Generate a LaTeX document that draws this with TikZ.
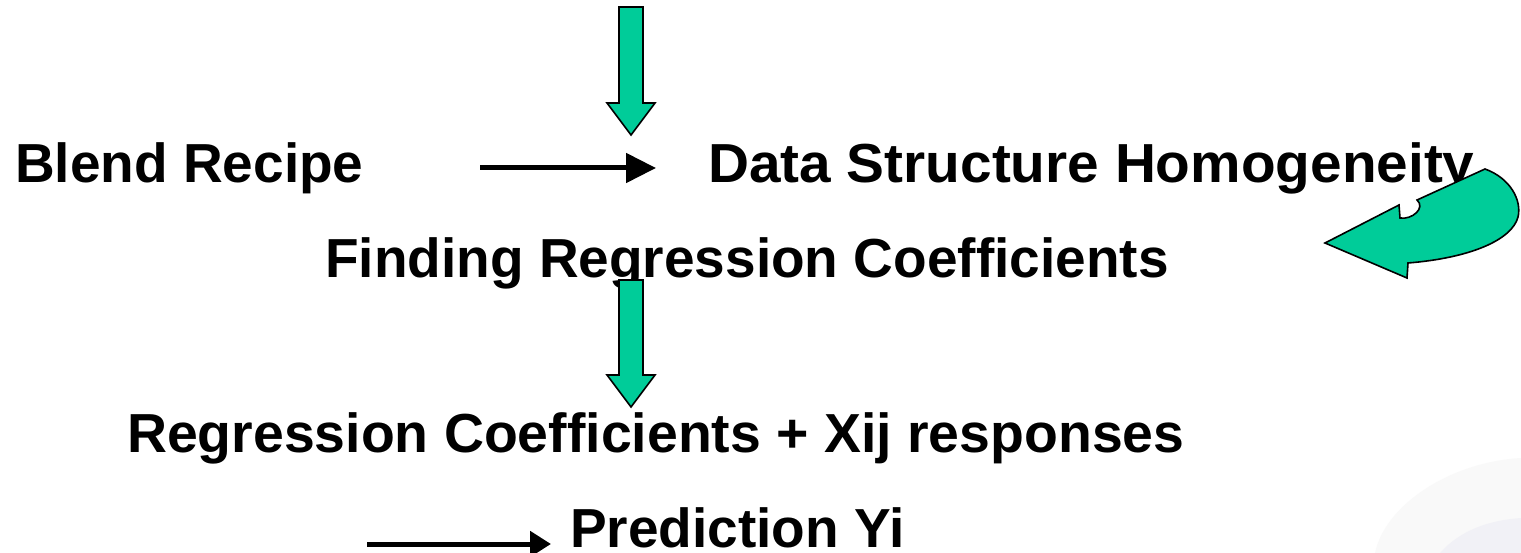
\documentclass[tikz,border=0pt]{standalone}
\usepackage{fontspec}
\setmainfont{Liberation Sans}
\usetikzlibrary{arrows.meta}
\definecolor{arrowgreen}{RGB}{0,204,153}
\begin{document}
\begin{tikzpicture}[x=1pt,y=-1pt,
  lbl/.style={anchor=base west,inner sep=0pt,font=\fontsize{55}{66}\selectfont\bfseries},
  flow/.style={line width=5pt},
  blockarrow/.style={fill=arrowgreen,draw=black,line width=1.6pt,line join=miter}]
  \useasboundingbox[fill=white] (0,0) rectangle (1521,553);

  % faint backdrop blot, lower right
  \fill[black!4,opacity=0.6] (1375,553) .. controls (1385,505) and (1450,462) .. (1521,458) -- (1521,553) -- cycle;
  \fill[blue!30!gray!12,opacity=0.5] (1440,553) .. controls (1460,530) and (1490,520) .. (1521,518) -- (1521,553) -- cycle;

  % labels
  \node[lbl] (blend) at (15,183) {Blend Recipe};
  \node[lbl,xscale=1.032] (data) at (708,183) {Data Structure Homogeneity};
  \node[lbl] (find) at (325,278) {Finding Regression Coefficients};
  \node[lbl,xscale=1.007] (coef) at (127,452) {Regression Coefficients + Xij responses};
  \node[lbl] (pred) at (570,547) {Prediction Yi};

  % thin connectors
  \coordinate (s1) at (480,168);
  \coordinate (e1) at (656,168);
  \draw[flow,-{Triangle[length=30pt,width=29pt]}] (s1) -- (e1);
  \coordinate (s2) at (367,544);
  \coordinate (e2) at (551,544);
  \draw[flow,-{Triangle[length=21pt,width=25pt]}] (s2) -- (e2);

  % green block arrows pointing down
  \draw[blockarrow,shift={(631,7)}]
    (-12,0) -- (12,0) -- (12,96) -- (24,96) -- (0,128) -- (-24,96) -- (-12,96) -- cycle;
  \draw[blockarrow,shift={(631,280)}]
    (-12,0) -- (12,0) -- (12,95) -- (24,95) -- (0,127) -- (-24,95) -- (-12,95) -- cycle;

  % curved green arrow turning back to the left
  \draw[blockarrow]
    (1325,243) -- (1399,205) -- (1400,218)
    .. controls (1412,220) and (1426,208) .. (1417,200)
    -- (1485,169)
    .. controls (1510,178) and (1522,200) .. (1518,217)
    .. controls (1512,240) and (1470,258) .. (1408,263)
    -- (1407,278) -- cycle;
\end{tikzpicture}
\end{document}
